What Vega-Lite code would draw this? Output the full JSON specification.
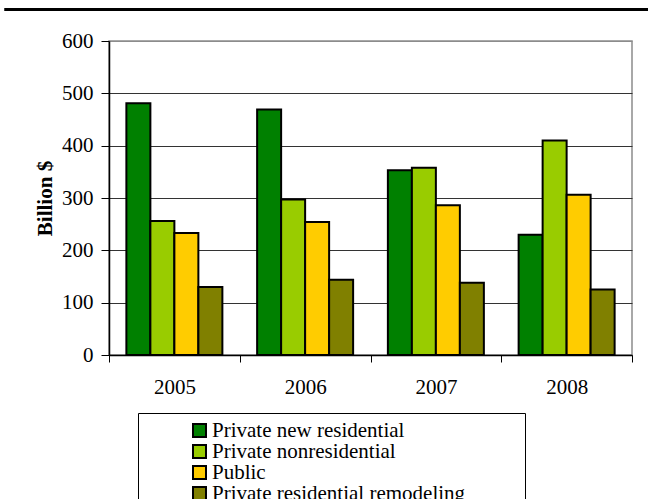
{
  "$schema": "https://vega.github.io/schema/vega-lite/v6.json",
  "width": 523,
  "height": 314,
  "autosize": {"type": "none"},
  "padding": {"left": 109, "top": 41, "right": 16, "bottom": 144},
  "background": "white",
  "config": {"font": "Liberation Serif", "view": {"stroke": "#8c8c8c", "strokeWidth": 1.5}},
  "title": {"text": "U.S. building spending trends, 2005-2008", "fontSize": 21, "font": "Liberation Serif", "fontWeight": "bold", "anchor": "middle", "baseline": "alphabetic", "offset": 5, "dx": -44, "dy": 6, "color": "black"},
  "data": {"values": [
    {"year": "2005", "series": "Private new residential", "value": 481},
    {"year": "2005", "series": "Private nonresidential", "value": 256},
    {"year": "2005", "series": "Public", "value": 233},
    {"year": "2005", "series": "Private residential remodeling", "value": 130},
    {"year": "2006", "series": "Private new residential", "value": 469},
    {"year": "2006", "series": "Private nonresidential", "value": 297},
    {"year": "2006", "series": "Public", "value": 254},
    {"year": "2006", "series": "Private residential remodeling", "value": 144},
    {"year": "2007", "series": "Private new residential", "value": 353},
    {"year": "2007", "series": "Private nonresidential", "value": 358},
    {"year": "2007", "series": "Public", "value": 286},
    {"year": "2007", "series": "Private residential remodeling", "value": 138},
    {"year": "2008", "series": "Private new residential", "value": 230},
    {"year": "2008", "series": "Private nonresidential", "value": 410},
    {"year": "2008", "series": "Public", "value": 306},
    {"year": "2008", "series": "Private residential remodeling", "value": 125}
  ]},
  "layer": [
    {
      "mark": {"type": "bar", "stroke": "black", "strokeWidth": 2},
      "encoding": {
        "x": {"field": "year", "type": "nominal", "scale": {"paddingInner": 0, "paddingOuter": 0},
          "axis": {"title": null, "labelAngle": 0, "labelFont": "Liberation Serif", "labelFontSize": 21, "labelColor": "black", "labelPadding": 14, "tickBand": "extent", "tickSize": 7, "tickColor": "black", "domainColor": "black", "domainWidth": 1.5, "grid": false}},
        "xOffset": {"field": "series", "type": "nominal", "sort": ["Private new residential", "Private nonresidential", "Public", "Private residential remodeling"], "scale": {"paddingInner": 0, "paddingOuter": 0.724}},
        "y": {"field": "value", "type": "quantitative", "scale": {"domain": [0, 600], "nice": false},
          "axis": {"title": "Billion $", "titleFont": "Liberation Serif", "titleFontSize": 21, "titleFontWeight": "bold", "titleColor": "black", "titlePadding": 6, "labelFont": "Liberation Serif", "labelFontSize": 21, "labelColor": "black", "labelPadding": 8, "tickSize": 8, "tickColor": "black", "domainColor": "black", "domainWidth": 1.5, "values": [0, 100, 200, 300, 400, 500, 600], "gridColor": {"condition": {"test": "datum.value == 600", "value": "#8c8c8c"}, "value": "#333333"}, "gridWidth": 1}},
        "color": {"field": "series", "type": "nominal",
          "scale": {"domain": ["Private new residential", "Private nonresidential", "Public", "Private residential remodeling"], "range": ["#008000", "#99CC00", "#FFCC00", "#808000"]},
          "legend": {"orient": "none", "legendX": 29, "legendY": 372, "title": "\u00a0", "titleOrient": "right", "titlePadding": 53, "titleFontSize": 21, "strokeColor": "black", "fillColor": "white", "padding": 7, "symbolType": "square", "symbolSize": 169, "symbolStrokeColor": "black", "symbolStrokeWidth": 2, "symbolOffset": 44, "labelOffset": 2, "labelFont": "Liberation Serif", "labelFontSize": 21, "labelColor": "black", "rowPadding": -5, "labelLimit": 400}}
      }
    },
    {
      "mark": {"type": "rule", "stroke": "black", "strokeWidth": 3},
      "encoding": {
        "x": {"datum": -0.199, "type": "quantitative", "scale": {"domain": [0, 1], "nice": false, "zero": false}, "axis": null},
        "x2": {"datum": 1.031},
        "y": {"datum": 660, "type": "quantitative", "scale": {"domain": [0, 600], "nice": false}, "axis": null}
      }
    }
  ],
  "resolve": {"scale": {"x": "independent", "y": "independent"}, "axis": {"x": "independent", "y": "independent"}}
}
